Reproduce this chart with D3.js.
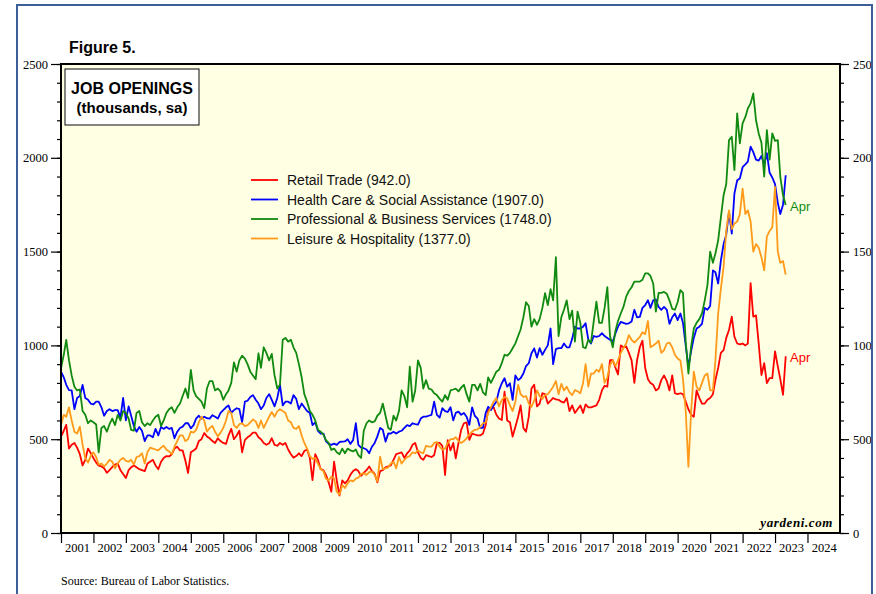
<!DOCTYPE html>
<html>
<head>
<meta charset="utf-8">
<script src="https://cdn.jsdelivr.net/npm/d3@7"></script>
<style>
  html, body { margin: 0; padding: 0; background: #ffffff; }
  svg { display: block; }
</style>
</head>
<body>
<svg id="chart" width="876" height="594"></svg>
<script>
// ---- DATA (monthly, Dec 2000 .. Apr 2023, thousands, sa) ----
const startYear = 2001;   // first point = Dec 2000 (plotted at month end)
const yearLabels = d3.range(2001, 2025);
const leftTicks = [0, 500, 1000, 1500, 2000, 2500];

const retail = [514,
  545, 576, 450, 470, 480, 455, 420, 360, 390, 450, 426, 400,
  375, 359, 355, 345, 321, 335, 352, 365, 370, 335, 315, 293,
  335, 350, 360, 350, 340, 335, 330, 370, 380, 390, 360, 340,
  380, 400, 410, 408, 420, 450, 460, 440, 440, 385, 320, 430,
  440, 450, 490, 500, 533, 515, 505, 490, 480, 505, 490, 480,
  475, 520, 555, 500, 520, 545, 430, 495, 510, 520, 535, 535,
  510, 500, 480, 470, 478, 505, 470, 465, 480, 470, 480, 445,
  420, 402, 410, 425, 410, 437, 445, 400, 282, 420, 390, 340,
  335, 310, 270, 220, 380, 280, 200, 280, 265, 280, 310, 330,
  340, 330, 305, 320, 335, 355, 330, 315, 270, 330, 335, 350,
  355, 360, 390, 420, 425, 430, 400, 425, 440, 470, 480, 430,
  400, 390, 415, 410, 405, 415, 480, 480, 465, 309, 495, 440,
  480, 398, 480, 550, 585, 590, 496, 530, 525, 520, 520, 530,
  575, 656, 665, 670, 630, 610, 602, 753, 600, 590, 514, 565,
  620, 680, 560, 540, 620, 770, 790, 675, 690, 745, 740, 690,
  705, 720, 712, 710, 700, 695, 720, 650, 680, 640, 660, 680,
  640, 685, 670, 670, 675, 680, 710, 760, 785, 780, 922, 922,
  880, 845, 1000, 990, 995, 960, 920, 800, 920, 990, 1025, 880,
  820, 800, 790, 760, 770, 815, 840, 810, 760, 840, 745, 740,
  745, 740, 700, 660, 630, 620, 760, 720, 690, 690, 710, 720,
  740, 815, 880, 960, 975, 1040, 1082, 1153, 1046, 1010, 1005, 1010,
  1000, 1010, 1332, 1153, 1160, 1011, 842, 905, 799, 826, 826, 968,
  888, 820, 737, 942];

const health = [860,
  830, 790, 762, 760, 660, 720, 730, 789, 720, 710, 690, 685,
  700, 700, 670, 625, 650, 660, 650, 655, 655, 615, 720, 600,
  675, 625, 570, 540, 565, 545, 490, 520, 520, 510, 555, 520,
  565, 555, 565, 555, 560, 505, 540, 560, 567, 585, 585, 558,
  575, 610, 625, 610, 620, 612, 610, 628, 620, 610, 640, 655,
  670, 680, 640, 655, 665, 660, 590, 700, 705, 725, 735, 710,
  690, 660, 680, 720, 740, 710, 675, 720, 789, 680, 700, 700,
  690, 735, 715, 660, 690, 670, 650, 640, 575, 590, 545, 530,
  530, 490, 475, 470, 476, 470, 485, 487, 488, 500, 475, 495,
  585, 470, 455, 452, 445, 425, 460, 480, 515, 560, 550, 487,
  531, 530, 540, 530, 540, 545, 560, 575, 570, 585, 580, 578,
  610, 620, 620, 625, 630, 700, 630, 615, 665, 650, 645, 670,
  600, 640, 647, 630, 640, 620, 576, 670, 625, 610, 560, 560,
  640, 673, 655, 680, 700, 760, 798, 825, 780, 798, 710, 840,
  815, 825, 850, 890, 905, 958, 984, 935, 985, 950, 976, 1000,
  1090, 900, 980, 985, 985, 1010, 990, 990, 1035, 1100, 1090, 1090,
  1100, 1118, 1030, 1010, 1050, 1045, 1050, 1065, 1050, 1040, 1030, 1020,
  1065, 1100, 1125, 1120, 1115, 1118, 1127, 1190, 1150, 1152, 1200, 1215,
  1241, 1200, 1240, 1245, 1205, 1190, 1205, 1190, 1115, 1150, 1170, 1135,
  1170, 1120, 1000, 886, 970, 1040, 1090, 1100, 1115, 1200, 1190, 1210,
  1400, 1390, 1330, 1450, 1540, 1590, 1712, 1596, 1810, 1880, 1890, 1950,
  1965, 1980, 2060, 2030, 1990, 1985, 2010, 1960, 2025, 1920, 1895, 1860,
  1760, 1700, 1750, 1907];

const professional = [878,
  950, 1029, 920, 840, 780, 760, 765, 650, 630, 585, 600, 590,
  578, 430, 560, 570, 540, 580, 610, 575, 630, 600, 650, 640,
  610, 550, 545, 640, 650, 590, 570, 585, 575, 600, 620, 630,
  570, 600, 640, 660, 670, 640, 670, 690, 730, 770, 720, 870,
  760, 730, 715, 700, 665, 770, 810, 810, 760, 770, 755, 710,
  740, 760, 800, 910, 860, 920, 945, 930, 900, 860, 840, 820,
  958, 880, 990, 960, 920, 955, 840, 770, 790, 1030, 1040, 1020,
  1030, 990, 960, 900, 830, 740, 700, 650, 630, 600, 550, 540,
  525, 495, 480, 443, 450, 430, 420, 450, 425, 450, 440, 435,
  445, 415, 400, 545, 585, 600, 590, 595, 625, 640, 690, 625,
  560, 550, 625, 600, 650, 760, 730, 670, 887, 700, 760, 920,
  880, 770, 815, 770, 765, 745, 735, 715, 700, 735, 710, 760,
  765, 770, 755, 775, 790, 740, 700, 790, 790, 760, 795, 750,
  735, 830, 800, 830, 860, 870, 905, 950, 945, 960, 985, 1011,
  1050, 1085, 1150, 1230, 1210, 1100, 1140, 1110, 1140, 1200, 1278, 1215,
  1300, 1240, 1470, 1050, 1150, 1190, 1240, 1140, 1185, 1020, 1180, 1120,
  990, 985, 1030, 1015, 1130, 1233, 1120, 1120, 1200, 1310, 1050, 990,
  1080, 1130, 1170, 1205, 1260, 1290, 1310, 1340, 1340, 1340, 1350, 1384,
  1384, 1370, 1330, 1180, 1280, 1280, 1285, 1275, 1240, 1195, 1190, 1230,
  1295, 1280, 1020, 850, 995, 1090, 1120, 1140, 1170, 1240, 1320, 1500,
  1440, 1490, 1560, 1680, 1800, 1860, 2094, 2112, 1934, 2237, 2077, 2183,
  2218, 2263, 2290, 2343, 2200, 2130, 2080, 1900, 2148, 1990, 2130, 2090,
  2094, 1900, 1800, 1748];

const leisure = [576,
  630, 620, 670, 600, 540, 530, 567, 470, 400, 375, 410, 430,
  405, 365, 370, 355, 370, 390, 380, 345, 370, 390, 400, 385,
  380, 390, 365, 405, 410, 425, 370, 432, 455, 450, 445, 440,
  455, 465, 445, 435, 420, 460, 490, 520, 520, 490, 500, 540,
  535, 550, 590, 620, 600, 540, 560, 570, 540, 515, 535, 560,
  600, 650, 640, 575, 560, 580, 585, 570, 575, 590, 605, 595,
  560, 600, 560, 590, 620, 645, 620, 648, 660, 650, 640, 600,
  590, 560, 555, 570, 520, 480, 450, 410, 395, 400, 370, 340,
  330, 290, 280, 300, 290, 220, 205, 255, 240, 265, 280, 275,
  290, 295, 315, 318, 310, 325, 327, 310, 275, 407, 340, 345,
  350, 370, 380, 345, 405, 370, 390, 405, 410, 430, 425, 440,
  430, 425, 465, 460, 460, 480, 485, 460, 445, 450, 480, 500,
  500, 510, 490, 480, 490, 505, 525, 540, 550, 552, 565, 585,
  590, 640, 670, 700, 720, 675, 709, 725, 718, 680, 650, 700,
  790, 740, 725, 730, 690, 673, 705, 760, 730, 715, 735, 740,
  760, 780, 810, 740, 795, 760, 780, 750, 735, 762, 755, 745,
  800, 900, 780, 850, 850, 870, 860, 900, 800, 830, 895, 920,
  890, 920, 960, 985, 1010, 1055, 1030, 1015, 1030, 1045, 1070, 1060,
  1130, 990, 1000, 1010, 1025, 960, 975, 1010, 1015, 990, 950, 930,
  920, 820, 650, 353, 650, 860, 780, 760, 800, 840, 850, 760,
  760, 920, 1170, 1300, 1420, 1610, 1720, 1620, 1650, 1660, 1700, 1836,
  1700, 1720, 1660, 1500, 1540, 1520, 1470, 1400, 1580, 1610, 1630, 1845,
  1500, 1440, 1450, 1377];

const seriesNames = [
  "Retail Trade (942.0)",
  "Health Care & Social Assistance (1907.0)",
  "Professional & Business Services (1748.0)",
  "Leisure & Hospitality (1377.0)"
];
const seriesColors = ["#ff0000", "#0000ff", "#108a10", "#ff9a1a"];
const seriesValues = [retail, health, professional, leisure];

// ---- DRAWING ----
const svg = d3.select("#chart");
const SANS = "'Liberation Sans', Arial, sans-serif";
const SERIF = "'Liberation Serif', 'Times New Roman', serif";

const P = { left: 61, right: 840, top: 64, bottom: 533 };

const x = d3.scaleTime()
  .domain([new Date(2001, 0, 1), new Date(2025, 0, 1)])
  .range([P.left, P.right]);
const y = d3.scaleLinear().domain([0, 2500]).range([P.bottom, P.top]);

// plot background
svg.append("rect")
  .attr("x", P.left).attr("y", P.top)
  .attr("width", P.right - P.left).attr("height", P.bottom - P.top)
  .attr("fill", "#ffffe3");

// date for point k: end of month (Dec 2000 -> Jan 1 2001)
const dateOf = k => new Date(startYear, k, 1);

const line = d3.line()
  .x((d, i) => x(dateOf(i)))
  .y(d => y(d));

const plotG = svg.append("g");
seriesValues.forEach((vals, i) => {
  plotG.append("path")
    .datum(vals)
    .attr("fill", "none")
    .attr("stroke", seriesColors[i])
    .attr("stroke-width", 1.8)
    .attr("stroke-linejoin", "round")
    .attr("d", line);
});

// frame of plot
svg.append("rect")
  .attr("x", P.left).attr("y", P.top)
  .attr("width", P.right - P.left).attr("height", P.bottom - P.top)
  .attr("fill", "none").attr("stroke", "#000").attr("stroke-width", 2);

// axes
const minorTicks = d3.range(0, 2501, 100);
function styleAxis(g) {
  g.select(".domain").remove();
  g.selectAll("line").attr("stroke", "#000").attr("stroke-width", 1.2);
  g.selectAll("text").attr("font-family", SERIF).attr("font-size", 12.5).attr("fill", "#000");
}
svg.append("g").attr("transform", `translate(${P.left},0)`)
  .call(d3.axisLeft(y).tickValues(minorTicks).tickSize(4).tickFormat(""))
  .call(styleAxis);
svg.append("g").attr("transform", `translate(${P.left},0)`)
  .call(d3.axisLeft(y).tickValues(leftTicks).tickSize(10).tickPadding(3).tickFormat(d3.format("d")))
  .call(styleAxis);
svg.append("g").attr("transform", `translate(${P.right},0)`)
  .call(d3.axisRight(y).tickValues(minorTicks).tickSize(4).tickFormat(""))
  .call(styleAxis);
svg.append("g").attr("transform", `translate(${P.right},0)`)
  .call(d3.axisRight(y).tickValues(leftTicks).tickSize(9).tickPadding(4).tickFormat(d3.format("d")))
  .call(styleAxis);

// x axis: ticks at year boundaries, labels mid-year
const yearStarts = d3.range(2001, 2025).map(yy => new Date(yy, 0, 1));
svg.append("g").attr("transform", `translate(0,${P.bottom})`)
  .call(d3.axisBottom(x).tickValues(yearStarts).tickSize(10).tickFormat(""))
  .call(styleAxis);
svg.append("g").attr("transform", `translate(0,${P.bottom})`)
  .call(d3.axisBottom(x).tickValues(yearLabels.map(yy => new Date(yy, 6, 1)))
    .tickSize(0).tickPadding(10).tickFormat(d3.timeFormat("%Y")))
  .call(styleAxis);

// title
svg.append("text").attr("x", 69).attr("y", 53)
  .attr("font-family", SANS).attr("font-weight", "bold").attr("font-size", 16)
  .text("Figure 5.");

// title box
svg.append("rect").attr("x", 65).attr("y", 69).attr("width", 134).attr("height", 56)
  .attr("fill", "#fff").attr("stroke", "#333").attr("stroke-width", 1.2);
svg.append("text").attr("x", 132).attr("y", 94).attr("text-anchor", "middle")
  .attr("font-family", SANS).attr("font-weight", "bold").attr("font-size", 16)
  .text("JOB OPENINGS");
svg.append("text").attr("x", 132).attr("y", 113).attr("text-anchor", "middle")
  .attr("font-family", SANS).attr("font-weight", "bold").attr("font-size", 15)
  .text("(thousands, sa)");

// legend
const legY = [180, 199.5, 219, 238.5];
seriesNames.forEach((name, i) => {
  svg.append("line").attr("x1", 251).attr("x2", 278)
    .attr("y1", legY[i]).attr("y2", legY[i])
    .attr("stroke", seriesColors[i]).attr("stroke-width", 1.8);
  svg.append("text").attr("x", 287).attr("y", legY[i] + 5)
    .attr("font-family", SANS).attr("font-size", 14).attr("fill", "#111")
    .text(name);
});

// end labels
svg.append("text").attr("x", 790).attr("y", 211)
  .attr("font-family", SANS).attr("font-size", 13).attr("fill", seriesColors[2]).text("Apr");
svg.append("text").attr("x", 790).attr("y", 362)
  .attr("font-family", SANS).attr("font-size", 13).attr("fill", seriesColors[0]).text("Apr");

// watermark
svg.append("text").attr("x", 833).attr("y", 527).attr("text-anchor", "end")
  .attr("font-family", SERIF).attr("font-weight", "bold").attr("font-style", "italic")
  .attr("font-size", 13).attr("letter-spacing", 0.6).text("yardeni.com");

// source
svg.append("text").attr("x", 61).attr("y", 585)
  .attr("font-family", SERIF).attr("font-size", 12).text("Source: Bureau of Labor Statistics.");

// outer frame (clips right labels)
svg.append("rect").attr("x", 873).attr("y", 0).attr("width", 3).attr("height", 594).attr("fill", "#fff");
const frameColor = "#3c5f99";
svg.append("line").attr("x1", 17).attr("x2", 17).attr("y1", 5).attr("y2", 594)
  .attr("stroke", frameColor).attr("stroke-width", 2);
svg.append("line").attr("x1", 16).attr("x2", 873).attr("y1", 5).attr("y2", 5)
  .attr("stroke", frameColor).attr("stroke-width", 2);
svg.append("line").attr("x1", 872).attr("x2", 872).attr("y1", 4).attr("y2", 594)
  .attr("stroke", frameColor).attr("stroke-width", 2);
</script>
</body>
</html>
